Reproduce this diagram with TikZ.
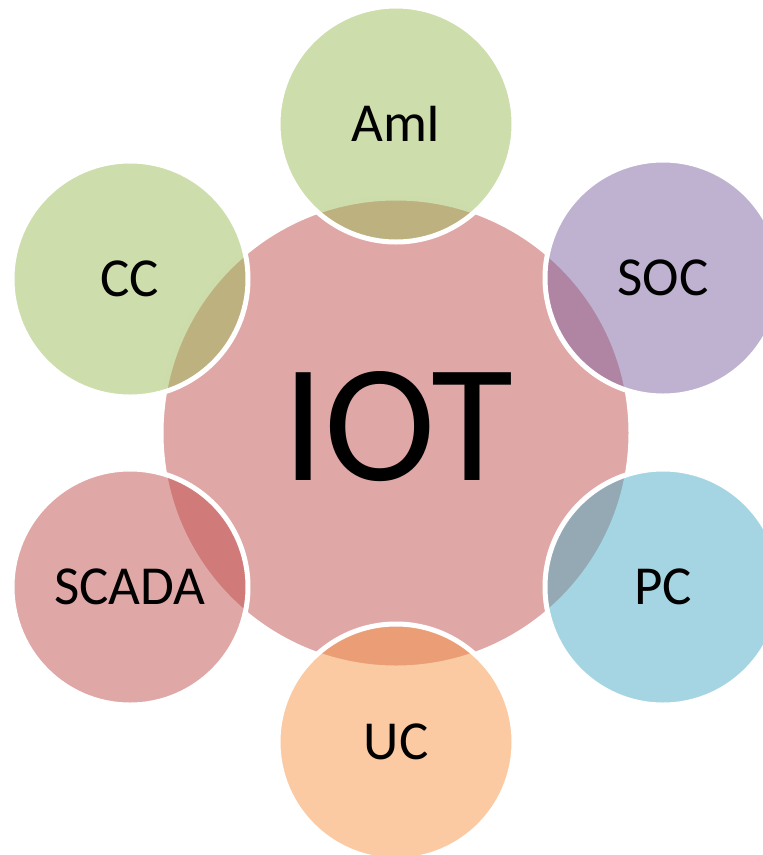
\documentclass[tikz,border=0pt]{standalone}
\usepackage{fontspec}
\setmainfont{Carlito}
\definecolor{accred}{HTML}{C0504D}
\definecolor{accgreen}{HTML}{9BBB59}
\definecolor{accpurple}{HTML}{8064A2}
\definecolor{accaqua}{HTML}{4BACC6}
\definecolor{accorange}{HTML}{F79646}
\tikzset{
  bubble/.style={circle, draw=white, line width=5pt, fill opacity=0.5, text opacity=1,
    draw opacity=1, minimum size=236pt, inner sep=0pt, text=black,
    font=\fontsize{55}{60}\selectfont},
  hub/.style={circle, draw=white, line width=5pt, fill=accred, fill opacity=0.5, text opacity=1,
    minimum size=470pt, inner sep=0pt, text=black},
}
\begin{document}
\begin{tikzpicture}[x=1pt,y=-1pt]
\path[use as bounding box] (0,0) rectangle (763,855);
\clip (0,0) rectangle (763,855);
\node[hub] (iot) at (396,433) {};
\node[font=\fontsize{168}{170}\selectfont, inner sep=0pt] (iott) at (398,427) {IOT};
\node[bubble, fill=accgreen] (ami) at (396,124) {AmI};
\node[bubble, fill=accpurple] (soc) at (663,278) {SOC};
\node[bubble, fill=accaqua] (pc) at (663,587) {PC};
\node[bubble, fill=accorange] (uc) at (396,742) {UC};
\node[bubble, fill=accred] (scada) at (130,587) {SCADA};
\node[bubble, fill=accgreen] (cc) at (130,279) {CC};
\end{tikzpicture}
\end{document}
